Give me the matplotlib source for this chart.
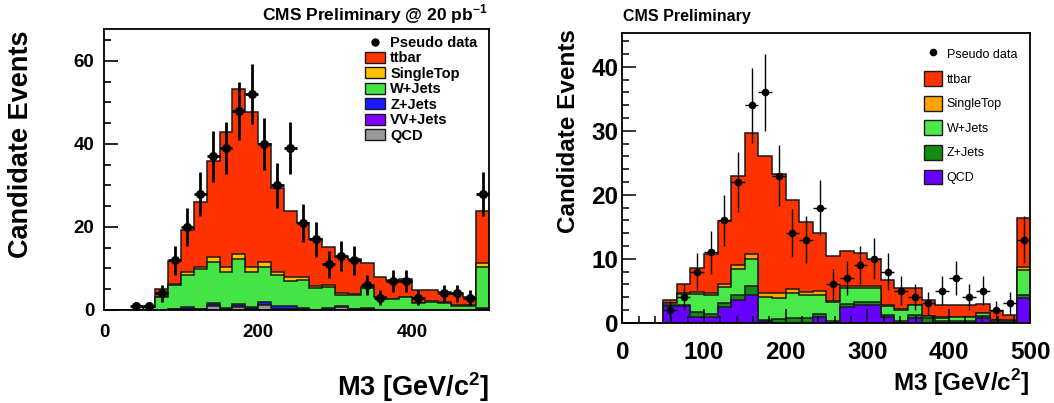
import numpy as np
import matplotlib
matplotlib.use("Agg")
import matplotlib.pyplot as plt
from matplotlib.lines import Line2D
from matplotlib.patches import Patch
from matplotlib.ticker import MultipleLocator

# M3 histograms, 30 bins from 0 to 500 GeV/c^2 (last bin holds overflow)
edges = np.linspace(0, 500, 31)

# left panel: 20 pb^-1
tt_l = [0, 0, 0, 0.1, 1.9, 5.6, 10.0, 15.7, 23.3, 32.5, 39.8, 37.4, 28.4, 20.2, 15.9,
        13.0, 11.3, 9.3, 8.8, 8.3, 5.7, 4.7, 4.6, 4.2, 3.1, 2.6, 2.5, 2.8, 2.1, 12.7]
st_l = [0, 0, 0, 0, 0.05, 0.2, 0.8, 0.6, 1.1, 1.2, 1.3, 1.2, 1.1, 0.8, 0.8,
        0.8, 0.6, 0.4, 0.4, 0.4, 0.3, 0.1, 0.1, 0.1, 0.1, 0.1, 0.1, 0.1, 0.1, 0.9]
w_l = [0, 0, 0, 0.7, 3.05, 5.65, 7.8, 9.45, 9.9, 8.75, 10.65, 8.35, 8.55, 7.45, 6.15,
       6.75, 5.1, 4.95, 2.65, 3.15, 4.75, 2.95, 2.5, 2.95, 1.55, 1.95, 1.75, 0.95, 0.9, 9.85]
z_l = [0, 0, 0, 0, 0, 0.2, 0.4, 0.2, 0.6, 0.3, 0.65, 0.5, 0.65, 0.8, 0.8,
       0.3, 0.1, 0.5, 0.3, 0.2, 0.4, 0.1, 0.1, 0.1, 0.05, 0.05, 0.05, 0.05, 0.1, 0.3]
vv_l = [0, 0, 0, 0, 0, 0.05, 0.1, 0.05, 0.1, 0.05, 0.1, 0.05, 0.1, 0.05, 0.05,
        0.05, 0, 0.05, 0.05, 0.05, 0.05, 0, 0, 0, 0, 0, 0, 0, 0, 0.05]
qcd_l = [0, 0, 0, 0, 0, 0.1, 0.1, 0.1, 1.0, 0.1, 0.8, 0.2, 1.1, 0.1, 0.1,
         0.1, 0, 0, 0.6, 0.1, 0.1, 0, 0, 0, 0, 0, 0, 0, 0, 0.1]
data_l = [0, 0, 1, 1, 4, 12, 20, 28, 37, 39, 48, 52, 40, 30, 39,
          21, 17, 11, 13, 12, 6, 3, 7, 7, 3, 0, 4, 4, 3, 28]

# right panel
tt_r = [0, 0, 0, 0.5, 1.35, 3.8, 6.0, 9.9, 14.0, 19.0, 21.4, 18.7, 14.0, 10.9, 9.05,
        7.0, 5.4, 5.1, 4.3, 4.0, 3.4, 2.7, 2.5, 1.9, 1.85, 1.75, 1.3, 1.35, 0.85, 7.55]
st_r = [0, 0, 0, 0, 0.15, 0.3, 0.3, 0.4, 0.6, 0.75, 0.75, 0.7, 0.6, 0.5, 0.5,
        0.2, 0.3, 0.3, 0.2, 0.1, 0.1, 0.1, 0.1, 0.1, 0.05, 0.05, 0.05, 0.05, 0.05, 0.55]
w_r = [0, 0, 0, 0.3, 1.7, 2.9, 3.05, 2.6, 4.1, 4.25, 3.56, 3.4, 3.8, 3.5, 3.05,
       2.9, 2.6, 2.3, 2.3, 1.4, 1.8, 1.5, 0.2, 0.6, 0.7, 0.7, 0.5, 0.1, 0.1, 3.9]
z_r = [0, 0, 0, 0.2, 0.2, 0.7, 0.45, 0.6, 0.8, 1.3, 0.2, 0.5, 0.8, 0.8, 0.45,
       0.3, 0.4, 0.4, 0.4, 0.3, 0.2, 0.4, 0.8, 0.2, 0.2, 0.2, 0.2, 0.3, 0.2, 0.5]
qcd_r = [0, 0, 0, 2.6, 2.6, 0.9, 0.9, 2.4, 3.5, 4.4, 0.2, 0, 0, 0, 0.9,
         0, 2.5, 2.8, 2.8, 0.9, 0, 0.8, 0, 0, 0, 0, 0.8, 0, 0, 3.8]
data_r = [0, 0, 0, 2, 4, 8, 11, 16, 22, 34, 36, 23, 14, 13, 18,
          6, 7, 9, 10, 8, 5, 4, 3, 5, 7, 4, 5, 2, 3, 13]

names_l = ["QCD", "VV+Jets", "Z+Jets", "W+Jets", "SingleTop", "ttbar"]
colors_l = ["#999999", "#8000ff", "#1a1aff", "#44e444", "#ffc000", "#ff3300"]
names_r = ["QCD", "Z+Jets", "W+Jets", "SingleTop", "ttbar"]
colors_r = ["#6600ff", "#138a13", "#48e948", "#ffa500", "#ff3300"]

FONT = "Liberation Sans"
plt.rcParams['font.family'] = FONT
plt.rcParams['mathtext.fontset'] = 'custom'
plt.rcParams['mathtext.rm'] = FONT
plt.rcParams['mathtext.bf'] = FONT + ':bold'


def draw_stack(ax, layers, colors, data, lw_err, ms):
    tops = np.cumsum(np.array(layers, dtype=float), axis=0)
    for i in reversed(range(len(layers))):
        ax.stairs(tops[i], edges, fill=True, facecolor=colors[i],
                  edgecolor="#1a1a1a", linewidth=1.1)
    d = np.array(data, dtype=float)
    centers = 0.5 * (edges[1:] + edges[:-1])
    m = d > 0
    ax.errorbar(centers[m], d[m], yerr=np.sqrt(d[m]), xerr=(edges[1] - edges[0]) / 2,
                fmt="o", color="black", ms=ms, elinewidth=lw_err, capsize=0, zorder=5)


def legend(ax, names, colors, anchor, fs, weight, hl, hh, spacing, ms):
    handles = [Line2D([], [], ls="none", marker="o", color="black", ms=ms)]
    labels = ["Pseudo data"]
    for n, c in zip(reversed(names), reversed(colors)):
        handles.append(Patch(facecolor=c, edgecolor="#1a1a1a", linewidth=1.0))
        labels.append(n)
    ax.legend(handles, labels, loc="upper left", bbox_to_anchor=anchor, frameon=False,
              prop={"family": FONT, "size": fs, "weight": weight},
              handlelength=hl, handleheight=hh, labelspacing=spacing,
              handletextpad=0.35, borderpad=0, borderaxespad=0)


fig = plt.figure(figsize=(10.54, 4.03), dpi=100)

# ---- left panel
ax1 = fig.add_axes([0.0987, 0.2308, 0.3653, 0.6973])
draw_stack(ax1, [qcd_l, vv_l, z_l, w_l, st_l, tt_l], colors_l, data_l, 2.0, 5.5)
ax1.set_xlim(0, 500)
ax1.set_ylim(0, 67.7)
ax1.xaxis.set_major_locator(MultipleLocator(200))
ax1.yaxis.set_major_locator(MultipleLocator(20))
ax1.yaxis.set_minor_locator(MultipleLocator(5))
ax1.tick_params(axis="y", which="major", direction="in", length=10, width=1.2, pad=7)
ax1.tick_params(axis="y", which="minor", direction="in", length=5, width=1.2)
ax1.tick_params(axis="x", which="both", length=0, pad=10)
for lab in ax1.get_xticklabels() + ax1.get_yticklabels():
    lab.set_fontsize(13.5)
    lab.set_fontweight("bold")
for s in ax1.spines.values():
    s.set_linewidth(1.3)
legend(ax1, names_l, colors_l, (0.678, 0.975), 10.5, "bold", 1.37, 0.8, 0.10, 5)

fig.text(0.463, 0.966, r"CMS Preliminary @ 20 pb$^{\mathbf{-1}}$", ha="right", va="center",
         fontsize=12.5, fontweight="bold")
fig.text(0.0199, 0.643, "Candidate Events", rotation=90, ha="center", va="center",
         fontsize=19.5, fontweight="bold")
fig.text(0.4639, 0.040, r"M3 [GeV/c$^{\mathbf{2}}$]", ha="right", va="center",
         fontsize=19.5, fontweight="bold")

# ---- right panel
ax2 = fig.add_axes([0.5906, 0.1993, 0.3871, 0.719])
draw_stack(ax2, [qcd_r, z_r, w_r, st_r, tt_r], colors_r, data_r, 1.0, 4.5)
ax2.set_xlim(0, 500)
ax2.set_ylim(0, 45.3)
ax2.xaxis.set_major_locator(MultipleLocator(100))
ax2.xaxis.set_minor_locator(MultipleLocator(20))
ax2.yaxis.set_major_locator(MultipleLocator(10))
ax2.yaxis.set_minor_locator(MultipleLocator(2))
ax2.tick_params(which="major", direction="in", length=10, width=1.1)
ax2.tick_params(which="minor", direction="in", length=5, width=1.1)
ax2.tick_params(axis="x", which="major", pad=13)
ax2.tick_params(axis="y", which="major", pad=3)
for lab in ax2.get_xticklabels() + ax2.get_yticklabels():
    lab.set_fontsize(17.5)
    lab.set_fontweight("bold")
for s in ax2.spines.values():
    s.set_linewidth(1.3)
legend(ax2, names_r, colors_r, (0.739, 0.953), 9, "normal", 1.45, 1.45, 0.78, 4.5)

fig.text(0.591, 0.960, "CMS Preliminary", ha="left", va="center",
         fontsize=11.5, fontweight="bold")
fig.text(0.5389, 0.675, "Candidate Events", rotation=90, ha="center", va="center",
         fontsize=17.5, fontweight="bold")
fig.text(0.977, 0.050, r"M3 [GeV/c$^{\mathbf{2}}$]", ha="right", va="center",
         fontsize=17.5, fontweight="bold")

fig.savefig("out.png", dpi=100)
